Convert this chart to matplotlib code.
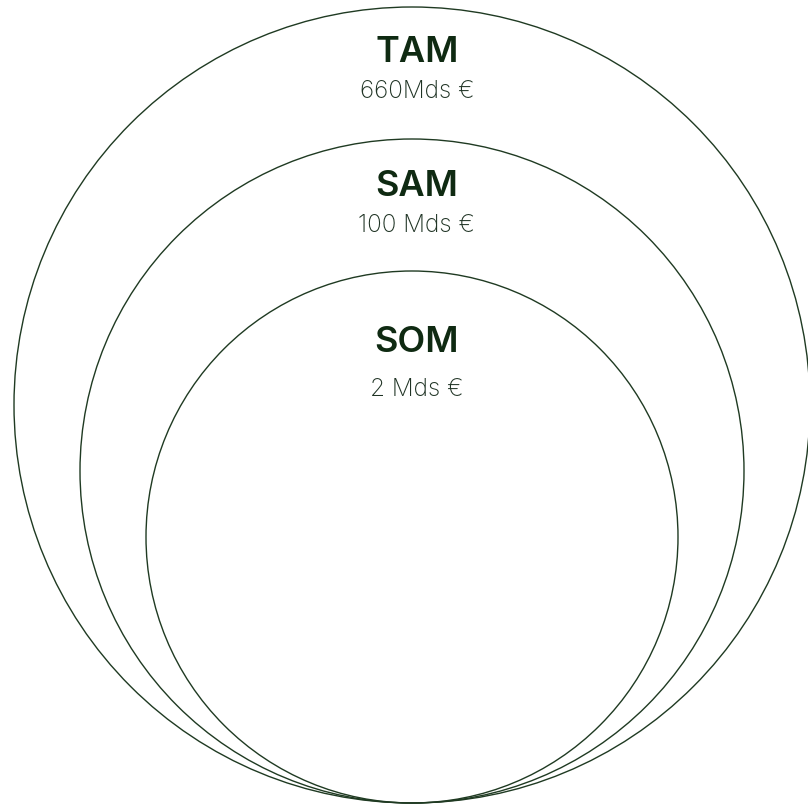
import matplotlib.pyplot as plt
from matplotlib.patches import Circle

plt.rcParams['font.family'] = ['Inter', 'DejaVu Sans']

# data
labels = ['TAM', 'SAM', 'SOM']
values = ['660Mds €', '100 Mds €', '2 Mds €']
radii = [398, 332, 266]   # relative circle size (px)

line_col = '#1f3a22'
title_col = '#0f2a12'
sub_col = '#1f3324'

fig = plt.figure(figsize=(8.08, 8.07), dpi=100)
ax = fig.add_axes([0, 0, 1, 1])
ax.set_xlim(0, 808)
ax.set_ylim(807, 0)
ax.set_aspect('equal')
ax.axis('off')

bottom = 803
cx = 412
title_y = [53, 187, 343]
sub_y = [92, 225, 389]

for lab, val, r, ty, sy in zip(labels, values, radii, title_y, sub_y):
    ax.add_patch(Circle((cx, bottom - r), r, fill=False, edgecolor=line_col, linewidth=1.0))
    ax.text(cx + 5, ty, lab, ha='center', va='center', fontsize=26,
            fontweight='semibold', color=title_col)
    ax.text(cx + 5, sy, val, ha='center', va='center', fontsize=17.5,
            fontweight='light', color=sub_col)

fig.savefig('out.png', dpi=100)
